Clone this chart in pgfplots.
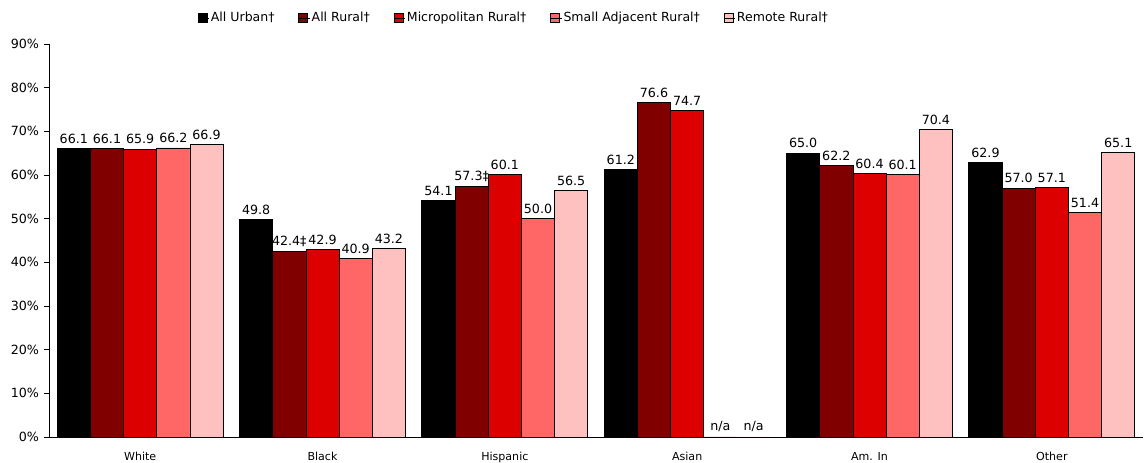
\documentclass[border=0pt]{standalone}
\usepackage{pgfplots}
\pgfplotsset{compat=1.18}
\usepackage{fontspec}
\setmainfont{DejaVu Sans}

\definecolor{cUrban}{HTML}{000000}
\definecolor{cRural}{HTML}{800000}
\definecolor{cMicro}{HTML}{DD0000}
\definecolor{cSmall}{HTML}{FF6666}
\definecolor{cRemote}{HTML}{FFC0C0}

% x = category index, y = percent, lab = printed value
\pgfplotstableread{
x y lab
0 66.1 66.1
1 49.8 49.8
2 54.1 54.1
3 61.2 61.2
4 65.0 65.0
5 62.9 62.9
}\urban
\pgfplotstableread{
x y lab
0 66.1 66.1
1 42.4 42.4‡
2 57.3 57.3‡
3 76.6 76.6
4 62.2 62.2
5 57.0 57.0
}\rural
\pgfplotstableread{
x y lab
0 65.9 65.9
1 42.9 42.9
2 60.1 60.1
3 74.7 74.7
4 60.4 60.4
5 57.1 57.1
}\micro
\pgfplotstableread{
x y lab
0 66.2 66.2
1 40.9 40.9
2 50.0 50.0
3 0 n/a
4 60.1 60.1
5 51.4 51.4
}\small
\pgfplotstableread{
x y lab
0 66.9 66.9
1 43.2 43.2
2 56.5 56.5
3 0 n/a
4 70.4 70.4
5 65.1 65.1
}\remote

\begin{document}
\begin{tikzpicture}[x=0.75pt,y=0.75pt]
\begin{axis}[
  scale only axis,
  width=820.5pt, height=294.75pt,
  ybar=0pt, bar width=0.182,
  legend image code/.code={%
    \draw[#1,draw=black,line width=0.5pt] (0pt,-3.4pt) rectangle (6.75pt,3.4pt);
    \path (0pt,0pt) -- (8.3pt,0pt);},
  xmin=-0.5, xmax=5.5,
  ymin=0, ymax=90,
  axis x line*=bottom, axis y line*=left,
  axis line style={black, line width=0.6pt, -},
  xtick={0,1,2,3,4,5},
  xticklabels={White,Black,Hispanic,Asian,Am. In,Other},
  x tick label style={font=\fontsize{8.3}{10}\selectfont, yshift=-4pt},
  major x tick style={draw=none},
  extra x ticks={0.5,1.5,2.5,3.5,4.5},
  extra x tick labels={},
  extra x tick style={major tick length=4pt, tick align=outside, tick style={black, line width=0.6pt}},
  ytick={0,10,...,90},
  yticklabel={\pgfmathprintnumber{\tick}\%},
  y tick label style={font=\fontsize{9.5}{11}\selectfont},
  /pgf/number format/assume math mode=true,
  ytick style={black, line width=0.6pt},
  tick align=outside, major tick length=4pt,
  nodes near coords,
  point meta=explicit symbolic,
  every node near coord/.append style={font=\fontsize{9.5}{11}\selectfont, color=black, inner sep=2pt, yshift=1.5pt},
  legend style={at={(0.4246,1.066)}, anchor=center, draw=none, fill=none,
    font=\fontsize{9.4}{11}\selectfont, legend columns=-1,
    nodes={inner sep=1.2pt},
    /tikz/every even column/.append style={column sep=16.5pt}},
  legend cell align=left,
]
\addplot[fill=cUrban, draw=black, line width=0.6pt] table[x=x,y=y,meta=lab]{\urban};
\addplot[fill=cRural, draw=black, line width=0.6pt] table[x=x,y=y,meta=lab]{\rural};
\addplot[fill=cMicro, draw=black, line width=0.6pt] table[x=x,y=y,meta=lab]{\micro};
\addplot[fill=cSmall, draw=black, line width=0.6pt] table[x=x,y=y,meta=lab]{\small};
\addplot[fill=cRemote, draw=black, line width=0.6pt] table[x=x,y=y,meta=lab]{\remote};
\legend{All Urban†, All Rural†, Micropolitan Rural†, Small Adjacent Rural†, Remote Rural†}
\end{axis}
\pgfresetboundingbox
\path (current axis.south west) ++(-49,-26) rectangle ++(1144,463);
\end{tikzpicture}
\end{document}
